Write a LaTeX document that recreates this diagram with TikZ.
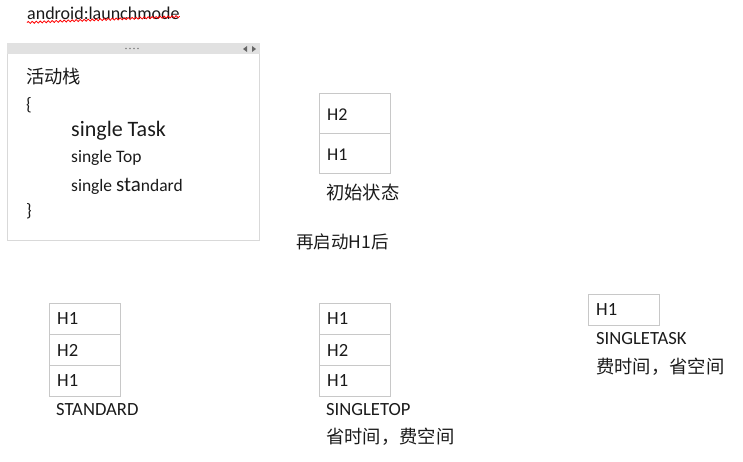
\documentclass[tikz,border=0pt]{standalone}
\usepackage{fontspec}
\setmainfont{Carlito}
\newfontfamily\cjk{Noto Sans CJK SC}
\usetikzlibrary{decorations.pathmorphing}
\definecolor{boxgray}{HTML}{C8C8C8}
\definecolor{panelgray}{HTML}{D9D9D9}
\definecolor{headgray}{HTML}{E1E1E1}
\definecolor{txt}{HTML}{1A1A1A}
\tikzset{
  lbl/.style={anchor=west, inner sep=0pt, text=txt, font=\fontsize{18}{20}\selectfont},
  cjklbl/.style={anchor=west, inner sep=0pt, text=txt, font=\cjk\fontsize{18.3}{20}\selectfont},
  hlbl/.style={anchor=west, inner sep=0pt, text=txt, font=\fontsize{18.6}{20}\selectfont},
  cell/.style={draw=boxgray, line width=1pt, minimum width=71pt, minimum height=31pt, inner sep=0pt, anchor=north west},
}
\begin{document}
\begin{tikzpicture}[x=1pt, y=-1pt]
\useasboundingbox (0,0) rectangle (743,461);
% title
\node[lbl] (title) at (27,13) {android:launchmode};
\draw[red, line width=0.8pt, decorate, decoration={snake, amplitude=1pt, segment length=4pt}] (title.south west) ++(0,3) -- ([yshift=3pt]title.south east);
% panel
\node[draw=panelgray, line width=1pt, minimum width=252pt, minimum height=197pt, anchor=north west, inner sep=0pt] (panel) at (7,43) {};
\fill[headgray] (panel.north west) rectangle ([yshift=-11pt]panel.north east);
\foreach \dx in {126,130,134,138} \fill[gray] (\dx,48.5) circle (0.8pt);
\fill[gray!80!black] (243,49) -- (247,46) -- (247,52) -- cycle;
\fill[gray!80!black] (256,49) -- (252,46) -- (252,52) -- cycle;
\node[cjklbl] (stk) at (26,77) {活动栈};
\node[lbl] (lb) at (26,105) {\{};
\node[lbl, font=\fontsize{22}{24}\selectfont] (st) at (71,131) {single Task};
\node[lbl, font=\fontsize{17.5}{20}\selectfont] (stop) at (71,158) {single Top};
\node[lbl, font=\fontsize{17.5}{20}\selectfont] (sstd) at (71,186) {single {\fontsize{21}{22}\selectfont sta}ndard};
\node[lbl] (rb) at (26,211) {\}};
% initial stack
\node[cell, minimum height=40pt] (i2) at (319,93) {};
\node[cell, minimum height=40pt] (i1) at (319,133) {};
\node[lbl] (i2t) at (327,115) {H2};
\node[lbl] (i1t) at (327,155) {H1};
\node[cjklbl] (init) at (326,193) {初始状态};
\node[cjklbl, font=\cjk\fontsize{17.5}{20}\selectfont] (again) at (296,242) {再启动H1后};
% standard
\node[cell] (s3) at (49,303) {};
\node[cell] (s2) at (49,334) {};
\node[cell] (s1) at (49,365) {};
\node[hlbl] at (57,319) {H1};
\node[hlbl] at (57,350) {H2};
\node[hlbl] at (57,381) {H1};
\node[hlbl] (stdl) at (56,410) {STANDARD};
% singletop
\node[cell] (t3) at (319,303) {};
\node[cell] (t2) at (319,334) {};
\node[cell] (t1) at (319,365) {};
\node[hlbl] at (327,319) {H1};
\node[hlbl] at (327,350) {H2};
\node[hlbl] at (327,381) {H1};
\node[hlbl] (topl) at (326,410) {SINGLETOP};
\node[cjklbl] (topc) at (326,437) {省时间，费空间};
% singletask
\node[cell] (k1) at (588,294) {};
\node[hlbl] at (596,310) {H1};
\node[hlbl] (taskl) at (596,339) {SINGLETASK};
\node[cjklbl] (taskc) at (596,367) {费时间，省空间};
\end{tikzpicture}
\end{document}
